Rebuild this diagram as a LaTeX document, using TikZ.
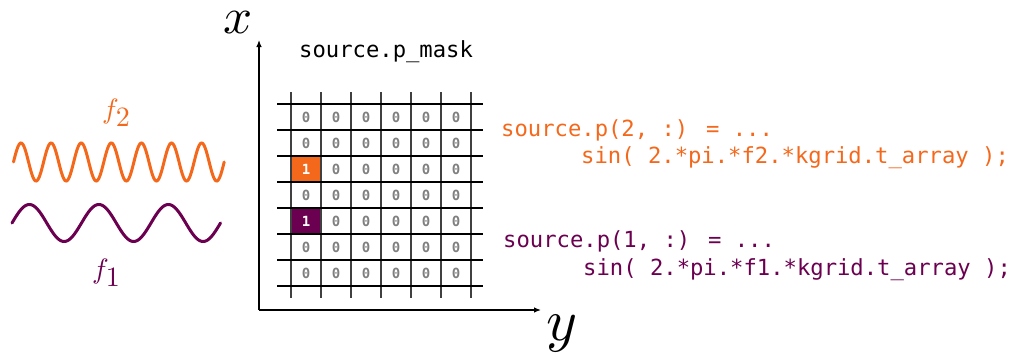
\documentclass[tikz,border=0pt]{standalone}
\usepackage{fontspec}
\newfontfamily\codefont{DejaVu Sans Mono}
\usetikzlibrary{arrows.meta}
\definecolor{korange}{RGB}{244,104,28}
\definecolor{kpurple}{RGB}{107,0,80}
\definecolor{kgray}{RGB}{128,128,128}
\tikzset{
  code/.style={inner sep=0pt, anchor=base west, font=\codefont\fontsize{22.2}{26}\selectfont},
  zero/.style={inner sep=0pt, text=kgray, font=\codefont\bfseries\fontsize{14}{16}\selectfont},
  one/.style={inner sep=0pt, text=white, font=\codefont\bfseries\fontsize{14}{16}\selectfont},
  vline/.style={line width=1.2pt, black!75},
  hline/.style={line width=1.2pt, black},
  axis/.style={line width=1.2pt, -{Latex[length=7pt,width=5.5pt]}},
  wave/.style={line width=3pt, line cap=round},
  biglabel/.style={inner sep=0pt, anchor=base, font=\fontsize{10}{12}\selectfont},
}
\begin{document}
\begin{tikzpicture}[x=1pt,y=-1pt]
\useasboundingbox (0,0) rectangle (1014,356);
% waves
\draw[wave, korange] plot[domain=0:2520, samples=400, smooth] ({13.5+\x/360*30.1}, {162-19*sin(\x)});
\draw[wave, kpurple] plot[domain=0:1080, samples=250, smooth] ({12+\x/360*69.5}, {223-18.5*sin(\x)});
\node[biglabel, text=korange] (f2) at (116.7,118) {\scalebox{2.8}{$f_{\textstyle 2}$}};
\node[biglabel, text=kpurple] (f1) at (106.7,278) {\scalebox{2.8}{$f_{\textstyle 1}$}};
% colored cells
\fill[korange] (291,156) rectangle (321,181.7);
\fill[kpurple] (291,207.7) rectangle (321,234);
% grid
\foreach \k in {0,...,6} {
  \draw[vline] ({291+30*\k},92) -- ({291+30*\k},298);
}
\foreach \k in {0,...,7} {
  \draw[hline] (277,{104+26*\k}) -- (483,{104+26*\k});
}
% cell values
\foreach \j in {0,...,6} {
  \foreach \i in {0,...,5} {
    \pgfmathtruncatemacro{\isone}{(\i==0)&&((\j==2)||(\j==4))}
    \ifnum\isone=1
      \node[one] (c\i\j) at ({306+30*\i},{117+26*\j}) {1};
    \else
      \node[zero] (c\i\j) at ({306+30*\i},{117+26*\j}) {0};
    \fi
  }
}
% axes
\coordinate (O) at (259,310);
\coordinate (xtip) at (259,40);
\coordinate (ytip) at (541,310);
\draw[axis] (O) -- (xtip);
\draw[axis] (O) -- (ytip);
\node[biglabel] (xl) at (238,33.3) {\scalebox{5.1}{$x$}};
\node[biglabel] (yl) at (562,340.4) {\scalebox{5.9}{$y$}};
% texts
\node[code] (mask) at (299,57) {source.p\_mask};
\node[code, text=korange] (o1) at (501,136.5) {source.p(2, :) = ...};
\node[code, text=korange] (o2) at (581,163.5) {sin( 2.*pi.*f2.*kgrid.t\_array );};
\node[code, text=kpurple] (p1) at (503,247.5) {source.p(1, :) = ...};
\node[code, text=kpurple] (p2) at (583,275) {sin( 2.*pi.*f1.*kgrid.t\_array );};
\end{tikzpicture}
\end{document}
